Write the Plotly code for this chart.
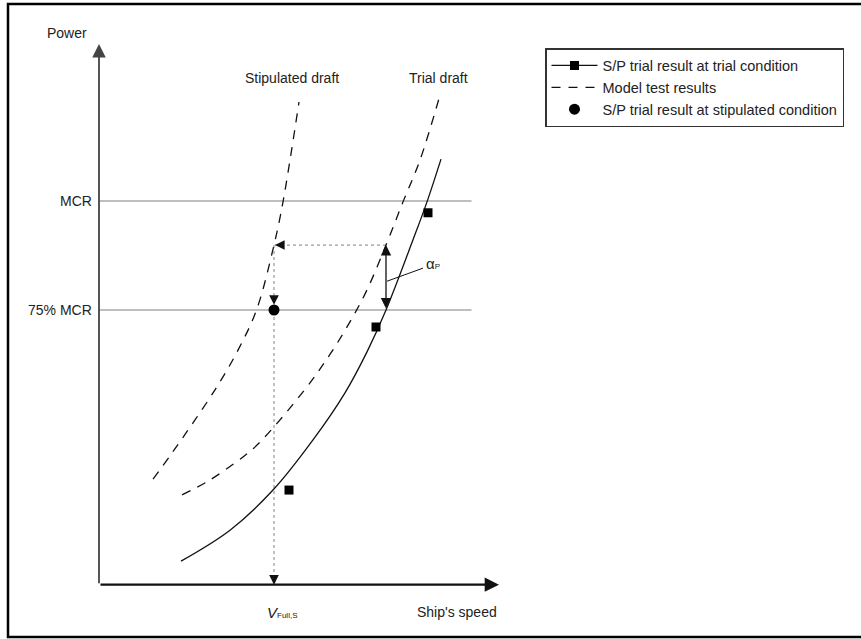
import plotly.graph_objects as go

# ---- schematic data (speed in kn, power in % MCR) ----
stip_speed = [12.16, 12.92, 14.64, 15.56, 16.30, 17.00, 17.36, 18.00]
stip_power = [36.2, 42.2, 56.7, 65.8, 75.0, 89.9, 99.8, 122.7]

model_speed = [13.32, 14.32, 15.76, 16.44, 18.76, 20.52, 21.48, 22.16, 22.84, 23.64]
model_power = [32.6, 35.6, 41.3, 44.7, 60.8, 77.3, 89.9, 99.8, 109.4, 124.3]

trial_speed = [13.28, 15.24, 16.96, 18.56, 19.84, 20.72, 21.48, 22.56, 23.12, 23.68]
trial_power = [17.4, 24.5, 33.7, 45.2, 56.0, 65.4, 75.0, 91.1, 99.8, 109.6]

sq_speed = [17.60, None, 21.08, None, 23.16]
sq_power = [33.7, None, 71.1, None, 97.3]

stip_pt_speed = [17.0]
stip_pt_power = [75.0]

level_power = [100, 75]
level_labels = ["MCR", "75% MCR"]
level_end_speed = 24.9

axis_origin = (10.0, 12.0)
axis_end_speed = 26.0
axis_end_power = 136.0

v_full_s = 17.0
v_trial = 21.48
p_model_at_trial = 89.9

legend_names = ["S/P trial result at trial condition",
                "Model test results",
                "S/P trial result at stipulated condition"]

FONT = "Liberation Sans, Arial, sans-serif"
TXT = "#222222"

fig = go.Figure()

# reference power levels
for p in level_power:
    fig.add_trace(go.Scatter(x=[axis_origin[0], level_end_speed], y=[p, p], mode="lines",
                             line=dict(color="#a8a8a8", width=1.5), showlegend=False,
                             hoverinfo="skip"))

# dotted construction lines
fig.add_trace(go.Scatter(x=[v_trial, v_full_s], y=[p_model_at_trial, p_model_at_trial], mode="lines",
                         line=dict(color="#9a9a9a", width=1.2, dash="dot"), showlegend=False,
                         hoverinfo="skip"))
fig.add_trace(go.Scatter(x=[v_full_s, v_full_s], y=[p_model_at_trial, axis_origin[1]], mode="lines",
                         line=dict(color="#9a9a9a", width=1.2, dash="dot"), showlegend=False,
                         hoverinfo="skip"))

# model test curves (dashed)
fig.add_trace(go.Scatter(x=stip_speed, y=stip_power, mode="lines", line_shape="spline",
                         line=dict(color="#111111", width=1.3, dash="9px,8px"),
                         name=legend_names[1], legendgroup="g2", legendrank=2, showlegend=True))
fig.add_trace(go.Scatter(x=model_speed, y=model_power, mode="lines", line_shape="spline",
                         line=dict(color="#111111", width=1.3, dash="9px,8px"),
                         legendgroup="g2", showlegend=False))

# S/P trial curve (solid)
fig.add_trace(go.Scatter(x=trial_speed, y=trial_power, mode="lines", line_shape="spline",
                         line=dict(color="#111111", width=1.3),
                         legendgroup="g1", showlegend=False))
# S/P trial points (squares; gaps so no connecting line but legend shows line+marker)
fig.add_trace(go.Scatter(x=sq_speed, y=sq_power, mode="lines+markers", connectgaps=False,
                         line=dict(color="#111111", width=1.3),
                         marker=dict(symbol="square", size=9, color="#000000"),
                         name=legend_names[0], legendgroup="g1", legendrank=1))
# S/P trial at stipulated condition
fig.add_trace(go.Scatter(x=stip_pt_speed, y=stip_pt_power, mode="markers",
                         marker=dict(symbol="circle", size=11, color="#000000"),
                         name=legend_names[2], legendgroup="g3", legendrank=3))

# alpha_P leader line
fig.add_trace(go.Scatter(x=[v_trial + 0.04, 22.96], y=[81.6, 84.6], mode="lines",
                         line=dict(color="#111111", width=1), showlegend=False, hoverinfo="skip"))

ann = []
# axes with arrows
ann.append(dict(x=axis_origin[0], y=axis_end_power, ax=axis_origin[0], ay=axis_origin[1],
                xref="x", yref="y", axref="x", ayref="y", text="", showarrow=True,
                arrowhead=2, arrowsize=1.5, arrowwidth=1.8, arrowcolor="#444444"))
ann.append(dict(x=axis_end_speed, y=axis_origin[1], ax=axis_origin[0], ay=axis_origin[1],
                xref="x", yref="y", axref="x", ayref="y", text="", showarrow=True,
                arrowhead=2, arrowsize=1.3, arrowwidth=2.2, arrowcolor="#111111"))
# double arrow alpha_P
ann.append(dict(x=v_trial, y=p_model_at_trial, ax=v_trial, ay=level_power[1],
                xref="x", yref="y", axref="x", ayref="y", text="", showarrow=True,
                arrowside="end+start", arrowhead=2, startarrowhead=2,
                arrowsize=1.6, startarrowsize=1.6, arrowwidth=1.3, arrowcolor="#111111"))
# small heads on dotted lines
ann.append(dict(x=v_full_s + 0.04, y=p_model_at_trial, ax=10, ay=0, xref="x", yref="y",
                text="", showarrow=True, arrowhead=2, arrowsize=1.6, arrowwidth=1.2,
                arrowcolor="#111111"))
ann.append(dict(x=v_full_s, y=76.2, ax=0, ay=-10, xref="x", yref="y",
                text="", showarrow=True, arrowhead=2, arrowsize=1.6, arrowwidth=1.2,
                arrowcolor="#111111"))
ann.append(dict(x=v_full_s, y=axis_origin[1], ax=0, ay=-10, xref="x", yref="y",
                text="", showarrow=True, arrowhead=2, arrowsize=1.6, arrowwidth=1.2,
                arrowcolor="#111111"))

# texts
tf = dict(family=FONT, size=14, color=TXT)
for p, lab in zip(level_power, level_labels):
    ann.append(dict(x=axis_origin[0], y=p, xref="x", yref="y", text=lab, showarrow=False,
                    xanchor="right", xshift=-5, font=tf))
ann.append(dict(x=8.72, y=138.5, xref="x", yref="y", text="Power", showarrow=False, font=tf))
ann.append(dict(x=axis_end_speed, y=5.7, xref="x", yref="y", text="Ship's speed",
                showarrow=False, xanchor="right", font=tf))
ann.append(dict(x=v_full_s, y=5.7, xref="x", yref="y",
                text="<i>V</i><span style='font-size:8px'>Full,S</span>",
                showarrow=False, xanchor="left", xshift=-9, font=dict(family=FONT, size=15, color=TXT)))
ann.append(dict(x=17.72, y=128.2, xref="x", yref="y", text="Stipulated draft",
                showarrow=False, font=tf))
ann.append(dict(x=23.56, y=128.2, xref="x", yref="y", text="Trial draft",
                showarrow=False, font=tf))
ann.append(dict(x=23.0, y=85.6, xref="x", yref="y",
                text="α<span style='font-size:8px'>P</span>",
                showarrow=False, xanchor="left", font=dict(family=FONT, size=15, color=TXT)))

fig.update_layout(
    width=861, height=639,
    margin=dict(l=0, r=0, t=0, b=0),
    paper_bgcolor="white", plot_bgcolor="white",
    xaxis=dict(range=[6.04, 40.48], visible=False, fixedrange=True),
    yaxis=dict(range=[-0.46, 146.1], visible=False, fixedrange=True),
    annotations=ann,
    showlegend=True,
    legend=dict(x=545 / 861, y=1 - 48 / 639, xanchor="left", yanchor="top",
                bordercolor="#333333", borderwidth=1.5, bgcolor="white",
                font=dict(family=FONT, size=14.5, color=TXT),
                itemwidth=46, tracegroupgap=5, traceorder="normal"),
    shapes=[dict(type="rect", xref="paper", yref="paper",
                 x0=8 / 861, x1=1.02, y0=1 - 637 / 639, y1=1 - 4 / 639,
                 line=dict(color="black", width=2.5))],
)

fig.write_html("out.html")
